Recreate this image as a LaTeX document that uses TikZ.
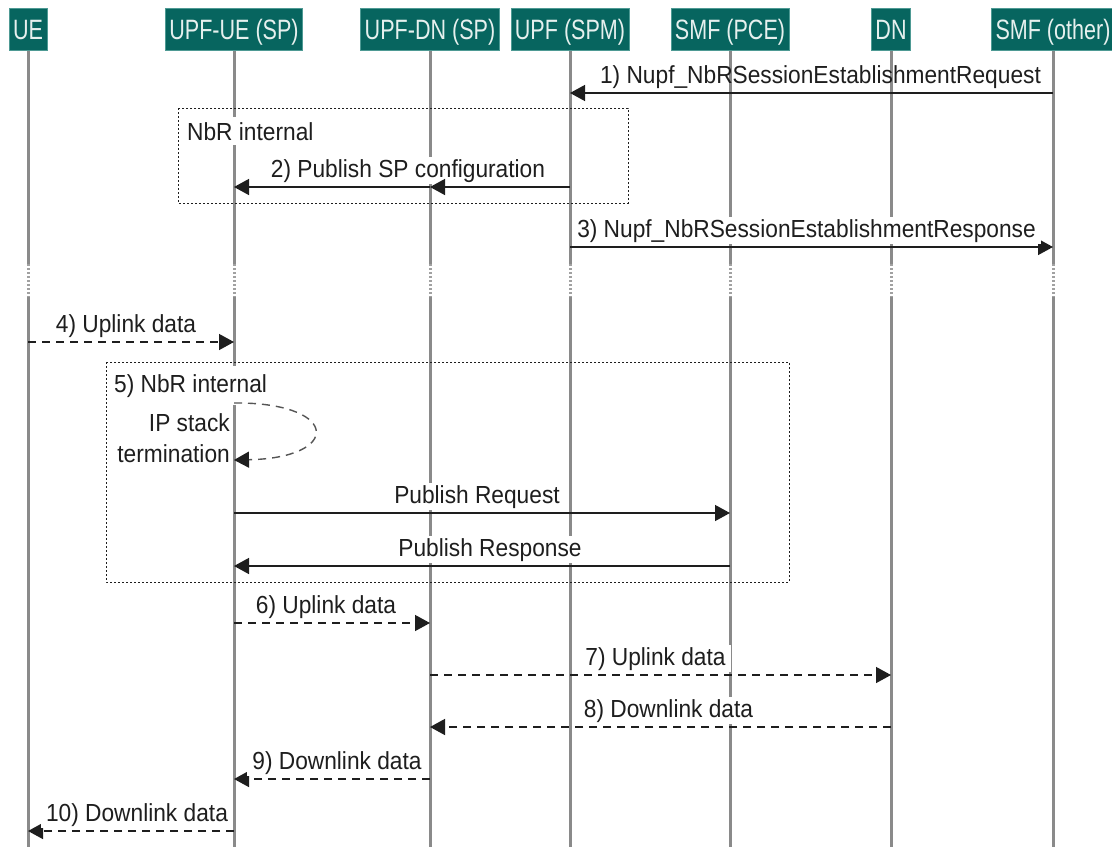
\documentclass[tikz,border=0pt]{standalone}
\usepackage{fontspec}
\setmainfont{Liberation Sans}[FakeStretch=0.92]
\newfontfamily\headfont{Liberation Sans}[FakeStretch=0.77]
\usetikzlibrary{arrows.meta}
\definecolor{hdrfill}{HTML}{07655F}
\definecolor{hdredge}{HTML}{4E9A94}
\definecolor{hdrtext}{HTML}{E6F0EE}
\definecolor{lifegray}{HTML}{8A8A8A}
\definecolor{ink}{HTML}{1E1E1E}
\definecolor{loopink}{HTML}{555555}

\begin{document}
\begin{tikzpicture}[x=1pt,y=-1pt,
  header/.style={fill=hdrfill, draw=hdredge, line width=0.8pt, text=hdrtext,
    font=\headfont\fontsize{28}{30}\selectfont, minimum height=42pt,
    text height=20pt, text depth=0pt,
    inner xsep=4pt, inner ysep=0pt, anchor=north},
  life/.style={draw=lifegray, line width=3pt},
  lifebreak/.style={draw=lifegray!80, line width=3pt, dash pattern=on 2pt off 2pt},
  msg/.style={draw=ink, line width=1.4pt, -{Triangle[length=15pt,width=16pt]}},
  dmsg/.style={msg, dash pattern=on 8pt off 6pt},
  selfmsg/.style={draw=loopink, line width=1.4pt, dash pattern=on 8pt off 6pt,
    -{Triangle[length=15pt,width=16pt,color=ink]}},
  lbl/.style={text=ink, font=\fontsize{24.7}{31}\selectfont, inner sep=0pt, anchor=base},
  wlbl/.style={lbl, fill=white, inner xsep=5pt, inner ysep=2pt},
  frame/.style={draw=ink, line width=1pt, dash pattern=on 2pt off 2pt},
]
\useasboundingbox (0,0) rectangle (1112,847);
\clip (0,0) rectangle (1112,847);

% participants
\node[header] (hUE)  at (28,8)   {UE};
\node[header] (hUUE) at (234,8)  {UPF-UE (SP)};
\node[header] (hUDN) at (430,8)  {UPF-DN (SP)};
\node[header] (hSPM) at (570,8)  {UPF (SPM)};
\node[header] (hPCE) at (730,8)  {SMF (PCE)};
\node[header] (hDN)  at (891,8)  {DN};
\node[header] (hSMF) at (1053,8) {SMF (other)};

% lifelines with a dotted time gap
\foreach \n/\x in {UE/28, UUE/234, UDN/430, SPM/570, PCE/730, DN/891, SMF/1053} {
  \draw[life] (h\n.south) -- (\x,264);
  \draw[lifebreak] (\x,264) -- (\x,297);
  \draw[life] (\x,297) -- (\x,847);
}

% 1) session establishment request
\coordinate (m1a) at (1053,93);
\coordinate (m1b) at (570,93);
\draw[msg] (m1a) -- (m1b) node[lbl, midway, yshift=10pt, xshift=9pt] {1) Nupf\_NbRSessionEstablishmentRequest};

% NbR internal block with 2)
\coordinate (f1a) at (178,108);
\coordinate (f1b) at (628,203);
\draw[frame] (f1a) rectangle (f1b);
\node[wlbl, anchor=base west, inner xsep=2pt, inner ysep=5pt] (f1t) at (185,140) {NbR internal};
\coordinate (m2a) at (570,187);
\coordinate (m2b) at (430,187);
\coordinate (m2c) at (234,187);
\node[wlbl] (m2l) at (408,177) {2) Publish SP configuration};
\draw[msg] (m2a) -- (m2b);
\draw[msg] (m2b) -- (m2c);

% 3) session establishment response
\coordinate (m3a) at (570,247);
\coordinate (m3b) at (1053,247);
\draw[msg] (m3a) -- (m3b) node[wlbl, midway, yshift=10pt, xshift=-5pt] {3) Nupf\_NbRSessionEstablishmentResponse};

% 4) uplink data
\coordinate (m4a) at (28,342);
\coordinate (m4b) at (234,342);
\draw[dmsg] (m4a) -- (m4b) node[wlbl, midway, yshift=10pt, xshift=-5pt] {4) Uplink data};

% 5) NbR internal block
\coordinate (f2a) at (106,362);
\coordinate (f2b) at (789,582);
\draw[frame] (f2a) rectangle (f2b);
\node[wlbl, anchor=base west, inner xsep=2pt, inner ysep=8pt] (f2t) at (112,392) {5) NbR internal};

\coordinate (s5a) at (234,403);
\coordinate (s5b) at (234,460);
\draw[selfmsg] (s5a) -- (242,403) .. controls (340,405) and (340,458) .. (s5b);
\node[lbl, anchor=east, align=right] (s5l) at (230,438) {IP stack\\termination};

\coordinate (p1a) at (234,513);
\coordinate (p1b) at (730,513);
\draw[msg] (p1a) -- (p1b) node[wlbl, midway, yshift=10pt, xshift=-5pt] {Publish Request};

\coordinate (p2a) at (730,566);
\coordinate (p2b) at (234,566);
\draw[msg] (p2a) -- (p2b) node[wlbl, midway, yshift=10pt, xshift=8pt] {Publish Response};

% 6)-10) user plane data
\coordinate (m6a) at (234,623);
\coordinate (m6b) at (430,623);
\draw[dmsg] (m6a) -- (m6b) node[wlbl, midway, yshift=10pt, xshift=-6pt] {6) Uplink data};

\coordinate (m7a) at (430,675);
\coordinate (m7b) at (891,675);
\draw[dmsg] (m7a) -- (m7b) node[wlbl, midway, yshift=10pt, xshift=-5pt] {7) Uplink data};

\coordinate (m8a) at (891,727);
\coordinate (m8b) at (430,727);
\draw[dmsg] (m8a) -- (m8b) node[wlbl, midway, yshift=10pt, xshift=8pt] {8) Downlink data};

\coordinate (m9a) at (430,779);
\coordinate (m9b) at (234,779);
\draw[dmsg] (m9a) -- (m9b) node[wlbl, midway, yshift=10pt, xshift=5pt] {9) Downlink data};

\coordinate (m10a) at (234,831);
\coordinate (m10b) at (28,831);
\draw[dmsg] (m10a) -- (m10b) node[wlbl, midway, yshift=10pt, xshift=6pt] {10) Downlink data};
\end{tikzpicture}
\end{document}
